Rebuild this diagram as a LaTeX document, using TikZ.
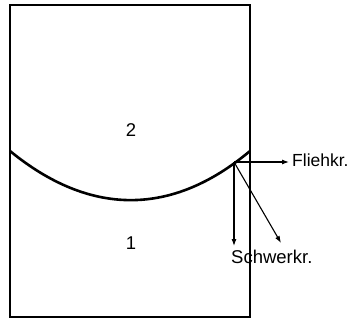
\documentclass[tikz,border=0pt]{standalone}
\usepackage{fontspec}
\setmainfont{Liberation Sans}
\usetikzlibrary{arrows.meta}
\begin{document}
\begin{tikzpicture}[x=1pt,y=-1pt,
  thick line/.style={line width=2.6pt},
  force/.style={line width=1.1pt,-{Latex[length=7pt,width=5pt]}},
  lbl/.style={inner sep=0pt,font=\fontsize{18.5}{21}\selectfont}]
\useasboundingbox (0,0) rectangle (351,321);
\draw[thick line] (10,5) rectangle (250,317);
\draw[thick line] (10,151) .. controls (90,216.5) and (172,216.5) .. (250,151);
\coordinate (o) at (234,162);
\coordinate (fl) at (289,162);
\coordinate (sv) at (234,246);
\coordinate (sd) at (281,243);
\draw[force] (o) -- (fl);
\draw[force] (o) -- (sv);
\draw[force] (o) -- (sd);
\node[lbl,anchor=base west,font=\fontsize{17.5}{20}\selectfont] (tf) at (292,166) {Fliehkr.};
\node[lbl,anchor=base west] (ts) at (231,263.5) {Schwerkr.};
\node[lbl,anchor=base] (t2) at (131,136.5) {2};
\node[lbl,anchor=base] (t1) at (131,249.5) {1};
\end{tikzpicture}
\end{document}
